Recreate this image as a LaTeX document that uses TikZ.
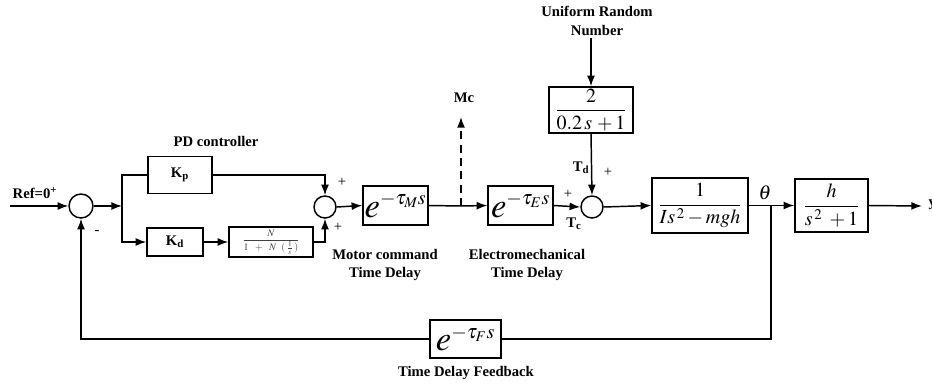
\documentclass[tikz,border=0pt]{standalone}
\usepackage{amsmath}
\usepackage{mathptmx}
\usepackage{fontspec}
\setmainfont{Liberation Serif}
\usetikzlibrary{arrows.meta}
\newcommand{\bigexp}[1]{$e^{\text{\fontsize{15}{16}\selectfont$#1$}}$}
\begin{document}
\begin{tikzpicture}[x=0.75pt,y=-0.75pt,
  line width=1.1pt,
  blk/.style={draw, line width=1.1pt, inner sep=0pt},
  sumc/.style={draw, circle, inner sep=0pt},
  arr/.style={-{Latex[length=8pt,width=6pt]}},
  lbl/.style={font=\fontsize{11}{14}\selectfont\bfseries, align=center, inner sep=0pt},
  sgn/.style={font=\fontsize{11}{13}\selectfont, inner sep=0pt},
  mth/.style={font=\fontsize{15}{17}\selectfont},
  expo/.style={font=\fontsize{26}{28}\selectfont},
]
\useasboundingbox (0,0) rectangle (932,390);

% summing junctions
\node[sumc, minimum size=18pt] (s1) at (81,206) {};
\node[sumc, minimum size=16.5pt] (s2) at (325,207) {};
\node[sumc, minimum size=16.5pt] (s3) at (592,207) {};

% blocks
\node[blk, minimum width=48pt, minimum height=27.75pt, lbl] (kp) at (180,175) {K\textsubscript{p}};
\node[blk, minimum width=42pt, minimum height=21pt, lbl] (kd) at (175,242) {K\textsubscript{d}};
\node[blk, minimum width=63pt, minimum height=22.5pt, font=\fontsize{7.5}{8}\selectfont, text=black!75] (nb) at (271,242)
  {$\dfrac{N}{1\ \ +\ \ N\ \ (\,\frac{1}{s}\,)}$};
\node[blk, minimum width=48.75pt, minimum height=29.25pt, expo] (em) at (395.5,205.5) {\bigexp{-\tau_M s}};
\node[blk, minimum width=48.75pt, minimum height=29.25pt, expo] (ee) at (520.5,205.5) {\bigexp{-\tau_E s}};
\node[blk, minimum width=63pt, minimum height=34.5pt, mth] (nz) at (591,110) {$\dfrac{2}{0.2\,s\,+1}$};
\node[blk, minimum width=72pt, minimum height=41.25pt, mth] (pl) at (700,205.5) {$\dfrac{1}{Is^{\,2}-mgh}$};
\node[blk, minimum width=54.75pt, minimum height=39.75pt, mth] (ob) at (831.5,205.5) {$\dfrac{h}{s^{\,2}\;+1}$};
\node[blk, minimum width=53.25pt, minimum height=28.5pt, expo] (ef) at (465.5,339) {\bigexp{-\tau_F s}};

% coordinates
\coordinate (in) at (10,206);
\coordinate (b1) at (122,206);
\coordinate (mj) at (461,206);
\coordinate (mc) at (461,117);
\coordinate (ut) at (591,38);
\coordinate (fb) at (771,206);
\coordinate (yo) at (922,206);

% labels
\node[lbl, anchor=west] (ref) at (12,193) {Ref=0\textsuperscript{+}};
\node[lbl] (pd) at (216,141) {PD controller};
\node[lbl] (mcl) at (464,98) {Mc};
\node[lbl] (unl) at (597,21) {Uniform Random\\Number};
\node[lbl] (mcd) at (385,265) {Motor command\\Time Delay};
\node[lbl] (emd) at (527,265) {Electromechanical\\Time Delay};
\node[lbl] (tdf) at (466,373) {Time Delay Feedback};
\node[lbl] (td) at (581,168) {T\textsubscript{d}};
\node[lbl] (tc) at (574,224) {T\textsubscript{c}};
\node[sgn] (p1) at (608,172) {+};
\node[sgn] (p2) at (568,194) {+};
\node[sgn] (p3) at (342,182) {+};
\node[sgn] (p4) at (338,227) {+};
\node[sgn] (m1) at (97,232) {-};
\node[mth] (th) at (765,193) {$\theta$};
\node[lbl, anchor=west] (yl) at (928,205) {y};

% connectors
\draw[arr] (in) -- (s1.west);
\draw[arr] (s1.east) -- (b1);
\draw (b1) |- (kp.west);
\draw[arr] (b1) |- (kd.west);
\draw[arr] (kd.east) -- (nb.west);
\draw[arr] (kp.east) -| (s2.north);
\draw[arr] (nb.east) -| (s2.south);
\draw[arr] (s2.east) -- (em.west);
\draw (em.east) -- (mj);
\draw[arr] (mj) -- (ee.west);
\draw[arr, dashed, dash pattern=on 6pt off 4pt] (mj) -- (mc);
\draw[arr] (ee.east) -- (s3.west);
\draw[arr] (ut) -- (nz.north);
\draw[arr] (nz.south) -- (s3.north);
\draw[arr] (s3.east) -- (pl.west);
\draw[arr] (pl.east) -- (ob.west);
\draw[arr] (ob.east) -- (yo);
\draw (fb) |- (ef.east);
\draw[arr] (ef.west) -| (s1.south);
\end{tikzpicture}
\end{document}
